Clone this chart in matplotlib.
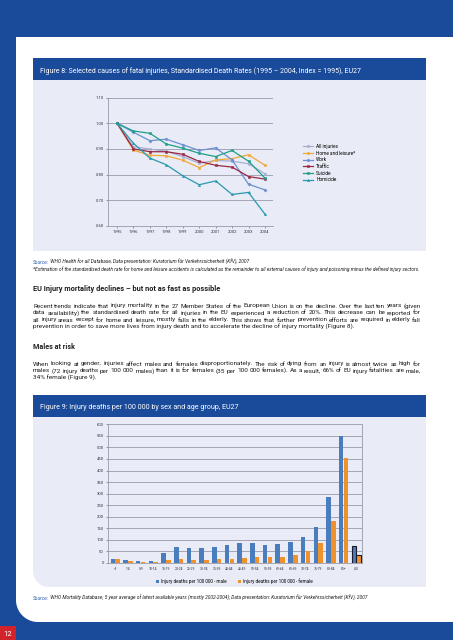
import numpy as np
import matplotlib
matplotlib.use('Agg')
import matplotlib.pyplot as plt
from matplotlib import transforms as mtransforms
from matplotlib.patches import Polygon

# ---------------- data ----------------
years = ['1995', '1996', '1997', '1998', '1999', '2000', '2001', '2002', '2003', '2004']
all_injuries = [1.00, 0.909, 0.899, 0.891, 0.870, 0.844, 0.855, 0.852, 0.842, 0.803]
home_leisure = [1.00, 0.895, 0.875, 0.873, 0.856, 0.827, 0.857, 0.862, 0.877, 0.836]
work = [1.00, 0.965, 0.932, 0.938, 0.916, 0.894, 0.904, 0.857, 0.762, 0.740]
traffic = [1.00, 0.900, 0.889, 0.889, 0.879, 0.851, 0.836, 0.829, 0.792, 0.782]
suicide = [1.00, 0.970, 0.961, 0.919, 0.903, 0.883, 0.870, 0.894, 0.852, 0.786]
homicide = [1.00, 0.922, 0.864, 0.838, 0.795, 0.760, 0.775, 0.722, 0.730, 0.645]
series_labels = ['All injuries', 'Home and leisure*', 'Work', 'Traffic', 'Suicide', 'Homicide']
y8_ticks = [0.60, 0.70, 0.80, 0.90, 1.00, 1.10]

age_groups = ['<1', '1-4', '5-9', '10-14', '15-19', '20-24', '25-29', '30-34', '35-39', '40-44',
              '45-49', '50-54', '55-59', '60-64', '65-69', '70-74', '75-79', '80-84', '85+', 'All']
male = [17, 11, 7, 9, 43, 69, 64, 63, 69, 77, 86, 86, 77, 82, 90, 112, 155, 286, 548, 72]
female = [16, 7, 4, 6, 13, 16, 13, 13, 16, 19, 21, 24, 24, 27, 34, 50, 87, 180, 453, 35]
legend9 = ['Injury deaths per 100 000 - male', 'Injury deaths per 100 000 - female']
y9_ticks = list(range(0, 601, 50))

# ---------------- style ----------------
BLUE = '#1a4a9a'
PANEL = '#e9ecf6'
GRID = '#9a9aaa'
TEXT = '#1e1e1e'
series_colors = ['#a9afd2', '#f0a838', '#6d8fd1', '#9b2743', '#1f9e89', '#2a98ae']
MALE_C = '#4a7dbd'
FEMALE_C = '#ef922b'

plt.rcParams['font.family'] = ['Roboto', 'DejaVu Sans']

W, H = 453, 640
fig = plt.figure(figsize=(W / 100, H / 100), dpi=100)
fig.patch.set_facecolor(BLUE)
pxT = mtransforms.Affine2D().scale(1 / W, -1 / H).translate(0, 1) + fig.transFigure


def box(x0, y0, x1, y1, color, r_bl=0, z=0):
    pts = [(x0, y0), (x1, y0), (x1, y1)]
    if r_bl:
        cx, cy = x0 + r_bl, y1 - r_bl
        for a in np.linspace(0, np.pi / 2, 24):
            pts.append((cx - r_bl * np.sin(a), cy + r_bl * np.cos(a)))
    else:
        pts.append((x0, y1))
    fig.add_artist(Polygon(pts, closed=True, transform=pxT, facecolor=color,
                           edgecolor='none', zorder=z))


# page and panels
box(16, 37, W + 5, 622, 'white', r_bl=22)
box(33, 58, 426, 80, BLUE)
box(33, 80, 426, 251, PANEL)
box(33, 395, 426, 417, BLUE)
box(33, 417, 426, 587, PANEL, r_bl=16)
box(0, 626, 16, 641, '#d2232a')

renderer = fig.canvas.get_renderer()


def width(t):
    return t.get_window_extent(renderer).width


def txt(x, y, s, size, **kw):
    kw.setdefault('color', TEXT)
    return fig.text(x, y, s, transform=pxT, fontsize=size, va='baseline', ha='left', **kw)


def fit(x0, x1, y, s, size0=4, **kw):
    t = txt(x0, y, s, size0, **kw)
    for _ in range(3):
        t.set_fontsize(t.get_fontsize() * (x1 - x0) / width(t))
    return t


def justify(x0, x1, y, s, size, **kw):
    words = s.split(' ')
    arts = [txt(0, y, w, size, **kw) for w in words]
    ws = [width(a) for a in arts]
    gap = (x1 - x0 - sum(ws)) / (len(words) - 1)
    x = x0
    for a, w in zip(arts, ws):
        a.set_x(x)
        x += w + gap


# ---------------- texts ----------------
fit(40, 360, 72.6, 'Figure 8: Selected causes of fatal injuries, Standardised Death Rates (1995 – 2004, Index = 1995), EU27', color='white')
fit(40, 238, 408.6, 'Figure 9: Injury deaths per 100 000 by sex and age group, EU27', color='white')

t = fit(33, 248, 264.2, 'Source: WHO Health for all Database, Data presentation: Kuratorium für Verkehrssicherheit (KfV), 2007', style='italic')
src_size = t.get_fontsize()
t.set_text('')
t1 = txt(33, 264.2, 'Source:', src_size, style='italic', color='#2b5caa')
txt(33 + width(t1), 264.2, ' WHO Health for all Database, Data presentation: Kuratorium für Verkehrssicherheit (KfV), 2007', src_size, style='italic')
fit(33, 417, 270.6, '*Estimation of the standardised death rate for home and leisure accidents is calculated as the remainder to all external causes of injury and poisoning minus the defined injury sectors.', style='italic')

fit(33, 221, 291, 'EU Injury mortality declines – but not as fast as possible', weight='bold')
para1 = ['Recent trends indicate that injury mortality in the 27 Member States of the European Union is on the decline. Over the last ten years (given',
         'data availability) the standardised death rate for all injuries in the EU experienced a reduction of 20%. This decrease can be reported for',
         'all injury areas except for home and leisure, mostly falls in the elderly. This shows that further prevention efforts are required in elderly fall']
probe = fit(0, 382, 0, para1[0])
BODY = probe.get_fontsize()
probe.remove()
for i, line in enumerate(para1):
    justify(33, 421, 307.5 + 7 * i, line, BODY)
txt(33, 307.5 + 21, 'prevention in order to save more lives from injury death and to accelerate the decline of injury mortality (Figure 8).', BODY)

fit(33, 75, 349, 'Males at risk', weight='bold')
para2 = ['When looking at gender, injuries affect males and females disproportionately. The risk of dying from an injury is almost twice as high for',
         'males (72 injury deaths per 100 000 males) than it is for females (35 per 100 000 females). As a result, 66% of EU injury fatalities are male,']
for i, line in enumerate(para2):
    justify(33, 421, 365.5 + 7 * i, line, BODY)
txt(33, 365.5 + 14, '34% female (Figure 9).', BODY)

t1 = txt(33, 600, 'Source:', src_size, style='italic', color='#2b5caa')
txt(33 + width(t1), 600, ' WHO Mortality Database; 5 year average of latest available years (mostly 2002-2004); Data presentation: Kuratorium für Verkehrssicherheit (KfV), 2007', src_size, style='italic')

fig.text(8, 634, '12', transform=pxT, fontsize=5.5, color='white', ha='center', va='center')

# ---------------- Figure 8 chart ----------------
def px_axes(x0, y0, x1, y1):
    return fig.add_axes([x0 / W, 1 - y1 / H, (x1 - x0) / W, (y1 - y0) / H])


ax1 = px_axes(108, 97.7, 273, 225.7)
ax1.set_facecolor('none')
xs = np.arange(len(years))
series = [all_injuries, home_leisure, work, traffic, suicide, homicide]
markers = ['s', 's', 'D', 's', 's', '^']
for vals, lab, col, mk in zip(series, series_labels, series_colors, markers):
    ax1.plot(xs, vals, color=col, lw=0.9, marker=mk, ms=1.6, mew=0.4, label=lab)
ax1.set_xlim(-0.55, 9.49)
ax1.set_ylim(0.6, 1.1)
ax1.set_yticks(y8_ticks)
ax1.set_yticklabels(['%.2f' % v for v in y8_ticks])
ax1.set_xticks(xs)
ax1.set_xticklabels(years)
ax1.grid(axis='y', color=GRID, lw=0.6)
ax1.set_axisbelow(True)
for s in ['top', 'right']:
    ax1.spines[s].set_visible(False)
for s in ['left', 'bottom']:
    ax1.spines[s].set_color(GRID)
    ax1.spines[s].set_linewidth(0.6)
ax1.tick_params(axis='both', labelsize=3.0, colors='#555566', length=1.5, width=0.4, pad=1.5)
ax1.tick_params(axis='both', labelcolor='#333344')
ax1.legend(loc='upper left', bbox_to_anchor=(303, 144), bbox_transform=pxT, frameon=False,
           fontsize=3.4, handlelength=2.2, labelspacing=0.35, handletextpad=0.6,
           borderpad=0, borderaxespad=0)

# ---------------- Figure 9 chart ----------------
ax2 = px_axes(108, 424.3, 362, 563)
ax2.set_facecolor('none')
xg = np.arange(len(age_groups))
bw = 0.36
edges = ['none'] * (len(age_groups) - 1) + ['#1a1a2a']
lws = [0] * (len(age_groups) - 1) + [0.8]
ax2.bar(xg - 0.19, male, width=bw, color=MALE_C, edgecolor=edges, linewidth=lws, label=legend9[0], zorder=3)
ax2.bar(xg + 0.19, female, width=bw, color=FEMALE_C, edgecolor=edges, linewidth=lws, label=legend9[1], zorder=3)
ax2.set_xlim(-0.57, 19.45)
ax2.set_ylim(0, 600)
ax2.set_yticks(y9_ticks)
ax2.set_xticks(xg)
ax2.set_xticklabels(age_groups)
ax2.grid(axis='y', color=GRID, lw=0.6, zorder=0)
ax2.set_axisbelow(True)
ax2.spines['top'].set_visible(False)
for s in ['left', 'bottom', 'right']:
    ax2.spines[s].set_color(GRID)
    ax2.spines[s].set_linewidth(0.6)
ax2.tick_params(axis='y', labelsize=3.0, labelcolor='#333344', colors='#555566', length=1.5, width=0.4, pad=1.5)
ax2.tick_params(axis='x', labelsize=2.4, labelcolor='#333344', length=0, pad=3)
ax2.legend(loc='center', bbox_to_anchor=(234, 581), bbox_transform=pxT, ncol=2, frameon=False,
           fontsize=3.3, handlelength=0.7, handleheight=0.7, handletextpad=0.4, columnspacing=2.5,
           borderpad=0, borderaxespad=0)

fig.savefig('out.png', dpi=100, facecolor=BLUE)
